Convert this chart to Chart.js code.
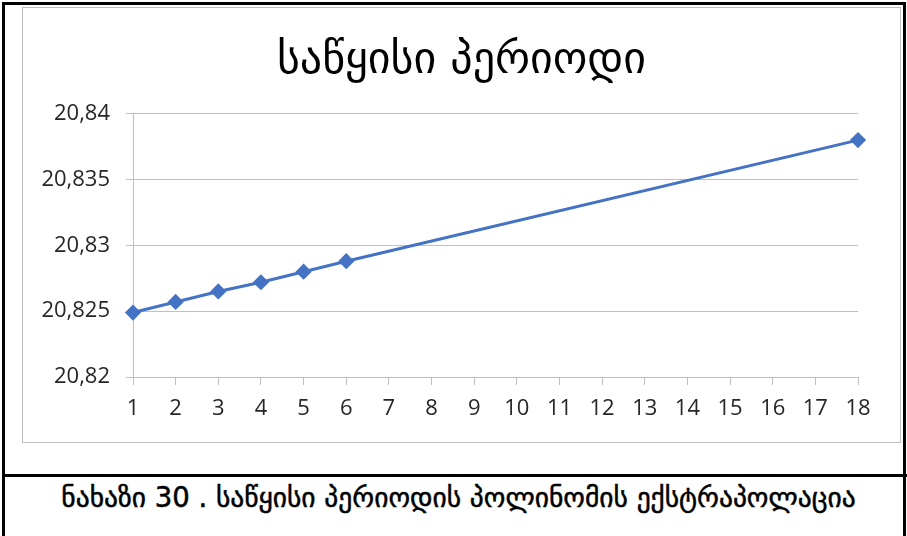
<!DOCTYPE html>
<html>
<head>
<meta charset="utf-8">
<script src="https://cdn.jsdelivr.net/npm/chart.js@4.4.1/dist/chart.umd.min.js"></script>
<style>
  html, body { margin: 0; padding: 0; background: #ffffff; }
  #page { position: relative; width: 907px; height: 536px; overflow: hidden; background: #fff; }
  #frame { position: absolute; left: 2px; top: 2px; width: 904px; height: 540px;
           border: 3px solid #000; border-bottom: none; box-sizing: border-box; }
  #chartBox { position: absolute; left: 22px; top: 7px; width: 879px; height: 436px;
              border: 1px solid #bfbfbf; box-sizing: border-box; background: #fff; }
  #chartBox canvas { position: absolute; left: 0; top: 0; }
  #rule { position: absolute; left: 2px; top: 474px; width: 905px; height: 3px; background: #000; }
  #caption { position: absolute; left: 5px; top: 478px; width: 907px; text-align: center;
             font-family: "DejaVu Sans", sans-serif; font-size: 27.5px;
             -webkit-text-stroke: 0.5px #000;
             line-height: 38px; color: #000; }
</style>
</head>
<body>
<div id="page">
  <div id="frame"></div>
  <div id="chartBox"><canvas id="c" width="877" height="434"></canvas></div>
  <div id="rule"></div>
  <div id="caption">ნახაზი 30 . საწყისი პერიოდის პოლინომის ექსტრაპოლაცია</div>
</div>
<script>
// Periods 1..18; computed values for 1–6 and the extrapolated value at 18
const periods = ['1','2','3','4','5','6','7','8','9','10','11','12','13','14','15','16','17','18'];
const values = [20.8249, 20.8257, 20.8265, 20.8272, 20.8280, 20.8288,
                null, null, null, null, null, null, null, null, null, null, null,
                20.8380];
const yTickValues = [20.82, 20.825, 20.83, 20.835, 20.84];
const yTickLabels = ['20,82', '20,825', '20,83', '20,835', '20,84'];
const chartTitle = 'საწყისი პერიოდი';

const blue = '#4472C4';
const gridGray = '#bfbfbf';
const tickFont = { family: '"Open Sans", sans-serif', size: 22 };
const tickColor = '#262626';

// Centre the title across the full canvas width rather than the padded layout width
const centreTitle = {
  id: 'centreTitle',
  afterLayout(chart) {
    const t = chart.titleBlock;
    if (t) { t.left = 0; t.right = chart.width; t.width = chart.width; }
  }
};

new Chart(document.getElementById('c'), {
  type: 'line',
  data: {
    labels: periods,
    datasets: [{
      data: values,
      borderColor: blue,
      backgroundColor: blue,
      borderWidth: 3,
      pointStyle: 'rectRot',
      pointRadius: 6,
      pointHoverRadius: 6,
      pointBackgroundColor: blue,
      pointBorderColor: blue,
      spanGaps: true,
      tension: 0
    }]
  },
  plugins: [centreTitle],
  options: {
    responsive: false,
    animation: false,
    devicePixelRatio: 1,
    layout: { padding: { left: 0, right: 42, top: 0, bottom: 0 } },
    plugins: {
      legend: { display: false },
      tooltip: { enabled: false },
      title: {
        display: true,
        text: chartTitle,
        color: '#000',
        font: { family: '"DejaVu Sans", sans-serif', size: 44, weight: 'normal' },
        padding: { top: 27, bottom: 26 }
      }
    },
    scales: {
      x: {
        type: 'category',
        offset: false,
        grid: { display: true, drawOnChartArea: false, drawTicks: true, tickLength: 8, color: gridGray },
        border: { display: true, color: gridGray, width: 1 },
        ticks: { color: tickColor, font: tickFont, padding: 11, maxRotation: 0, autoSkip: false },
        afterFit: (s) => { s.height = 65; }
      },
      y: {
        min: yTickValues[0],
        max: yTickValues[yTickValues.length - 1],
        afterBuildTicks: (s) => { s.ticks = yTickValues.map(v => ({ value: v })); },
        grid: { color: gridGray, tickLength: 7, drawTicks: true },
        border: { display: true, color: gridGray, width: 1 },
        ticks: {
          color: tickColor,
          font: tickFont,
          padding: 16,
          callback: (v) => {
            const i = yTickValues.findIndex(t => Math.abs(t - v) < 1e-9);
            return i >= 0 ? yTickLabels[i] : '';
          }
        },
        afterFit: (s) => { s.width = 110; }
      }
    }
  }
});
</script>
</body>
</html>
